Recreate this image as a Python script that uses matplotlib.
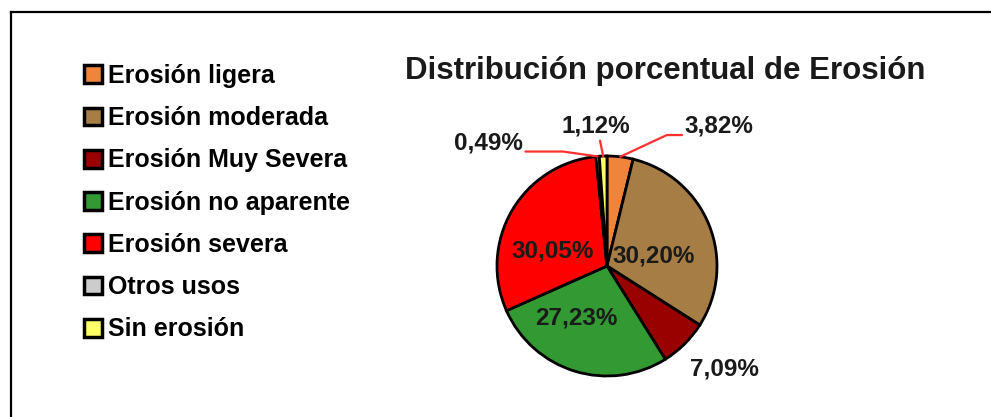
import numpy as np
import matplotlib.pyplot as plt
from matplotlib.patches import Patch
from matplotlib.lines import Line2D

plt.rcParams['font.family'] = ['Liberation Sans', 'DejaVu Sans']
plt.rcParams['font.weight'] = 'bold'

# data
categories = ['Erosión ligera', 'Erosión moderada', 'Erosión Muy Severa',
              'Erosión no aparente', 'Erosión severa', 'Otros usos', 'Sin erosión']
values = [3.82, 30.20, 7.09, 27.23, 30.05, 0.49, 1.12]
colors = ['#F0843A', '#A57D45', '#990000', '#339933', '#FF0000', '#CCCCCC', '#FFFF66']
labels = ['3,82%', '30,20%', '7,09%', '27,23%', '30,05%', '0,49%', '1,12%']

W, H = 991, 417
fig = plt.figure(figsize=(W / 100, H / 100), dpi=100)

# frame around the chart (cut at right/bottom in the original)
fig.add_artist(Line2D([11 / W, 1], [1 - 12 / H, 1 - 12 / H], color='black', lw=1.6))
fig.add_artist(Line2D([11 / W, 11 / W], [0, 1 - 12 / H], color='black', lw=1.6))

# pie axes: centre (607, 266) px, radius 110 px
cx, cy, r = 607, 266, 110
ax = fig.add_axes([(cx - r) / W, (H - cy - r) / H, 2 * r / W, 2 * r / H])
wedges, _ = ax.pie(values, colors=colors, startangle=90, counterclock=False,
                   wedgeprops=dict(edgecolor='black', linewidth=2))
ax.set_xlim(-1, 1)
ax.set_ylim(-1, 1)
ax.set_aspect('auto')

# text positions (pie units), leader connection and where the leader leaves the text
label_pos = {
    '3,82%': (1.02, 1.27, 'angle,angleA=0,angleB=25,rad=0', (0, 0.12)),
    '30,20%': (0.42, 0.09, None, None),
    '7,09%': (1.07, -0.94, None, None),
    '27,23%': (-0.28, -0.47, None, None),
    '30,05%': (-0.49, 0.14, None, None),
    '0,49%': (-1.08, 1.12, 'angle,angleA=0,angleB=-8,rad=0', (1, 0.12)),
    '1,12%': (-0.10, 1.27, 'arc3,rad=0', (0.55, 0)),
}
for w, lab in zip(wedges, labels):
    tx, ty, conn, rel = label_pos[lab]
    mid = np.deg2rad((w.theta1 + w.theta2) / 2)
    edge = (np.cos(mid), np.sin(mid))
    if conn is None:
        ax.text(tx, ty, lab, ha='center', va='center', fontsize=17.5,
                fontweight='bold', color='#1a1a1a')
    else:
        ax.annotate(lab, xy=edge, xytext=(tx, ty), ha='center', va='center',
                    fontsize=17.5, fontweight='bold', color='#1a1a1a',
                    arrowprops=dict(arrowstyle='-', color='#FF3030', lw=1.6,
                                    connectionstyle=conn, relpos=rel,
                                    shrinkA=0, shrinkB=0))

fig.text(665 / W, 1 - 71 / H, 'Distribución porcentual de Erosión', ha='center',
         va='center', fontsize=22.5, fontweight='bold', color='#1a1a1a')

handles = [Patch(facecolor=c, edgecolor='black', linewidth=2.5) for c in colors]
fig.legend(handles, categories, loc='upper left', bbox_to_anchor=(84 / W, 1 - 64 / H),
           frameon=False, handlelength=0.72, handleheight=0.72,
           handletextpad=0.22, labelspacing=0.73, borderpad=0, borderaxespad=0,
           prop=dict(weight='bold', size=18))

fig.savefig('out.png', dpi=100)
